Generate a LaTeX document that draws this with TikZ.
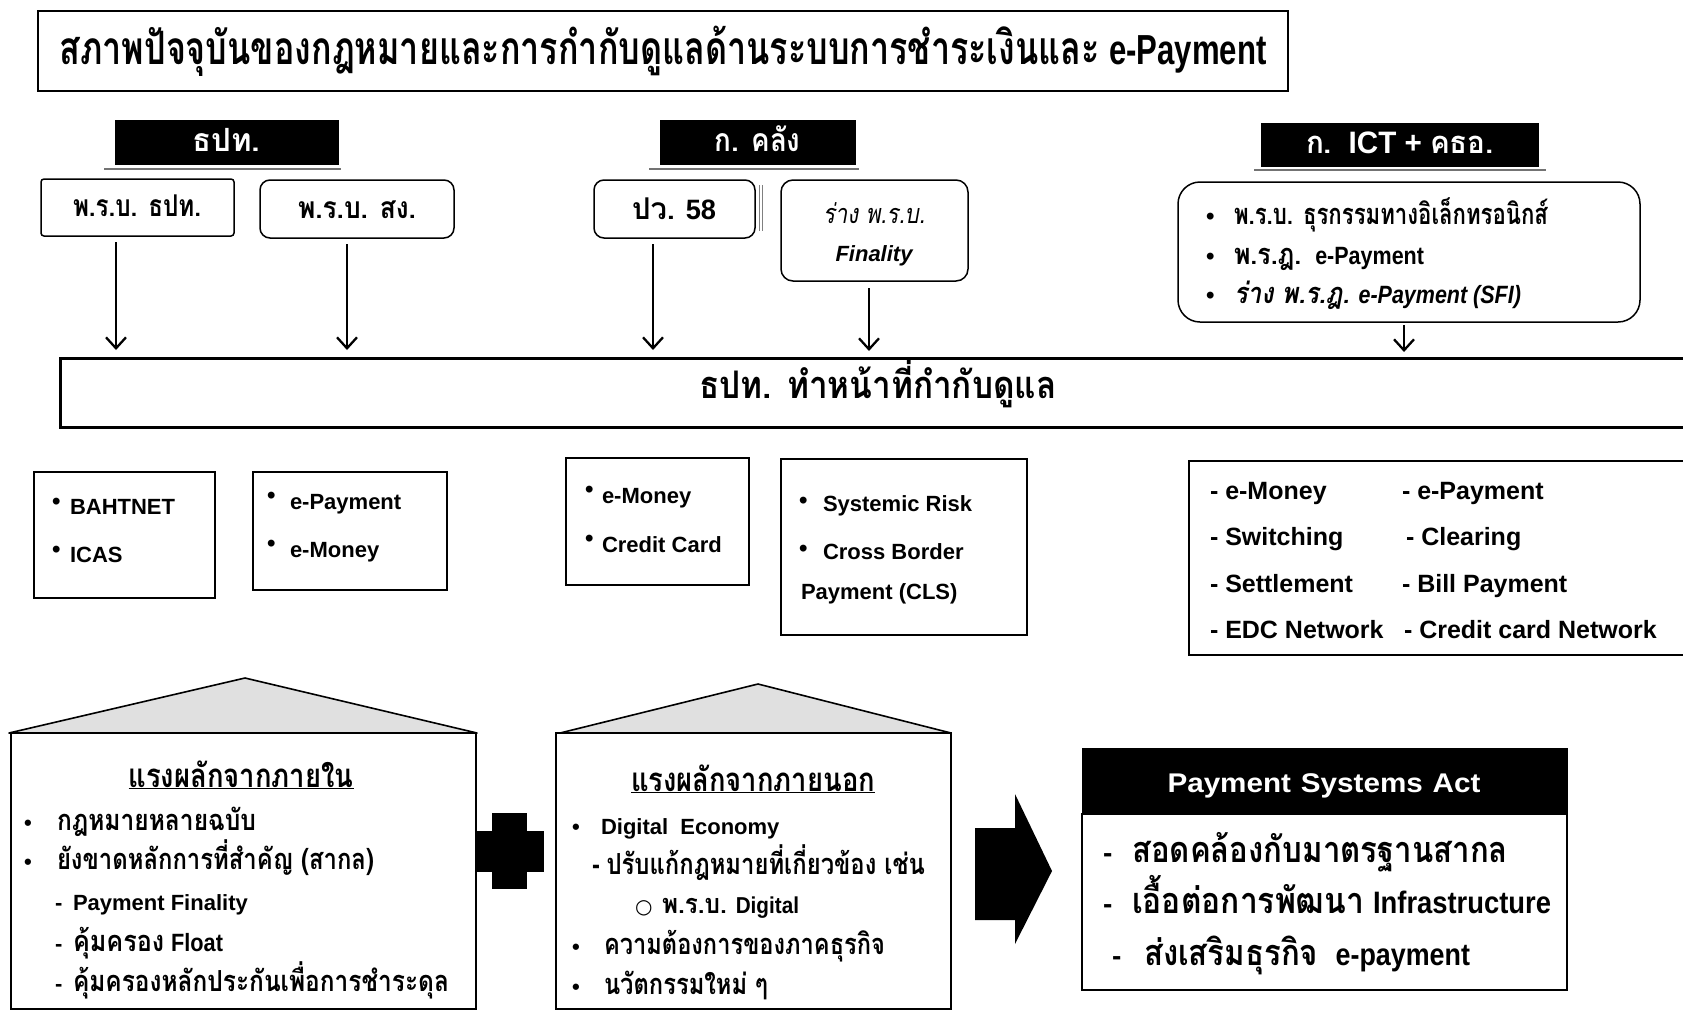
\documentclass[tikz,border=0pt]{standalone}
\usepackage{fontspec}
\usepackage{graphicx}
\setmainfont{Liberation Sans}
\newfontfamily\thfont[Script=Thai]{Loma}
\newfontfamily\dvfont{DejaVu Sans}
\usetikzlibrary{arrows.meta}
\newcommand{\T}[1]{{\thfont #1}}
\newcommand{\fs}[1]{\fontsize{#1}{#1}\selectfont}
\newcommand{\fw}[2]{\resizebox{#1}{\height}{#2}}
\tikzset{
  bx/.style={draw, line width=1.5pt, inner sep=0pt, outer sep=0pt},
  hd/.style={fill=black, draw=black, inner sep=0pt, outer sep=0pt},
  tx/.style={anchor=base west, inner sep=0pt, outer sep=0pt, font=\bfseries},
  tc/.style={anchor=base, inner sep=0pt, outer sep=0pt, font=\bfseries},
  arr/.style={line width=2.3pt, -{Straight Barb[length=11pt,width=20pt]}},
  roof/.style={fill=black!12, draw=black, line width=1.6pt, line join=round},
  hline/.style={draw=black!55, line width=2pt},
  blk/.style={fill=black},
}
\begin{document}
\begin{tikzpicture}[x=1pt,y=-1pt]
\useasboundingbox (0,0) rectangle (1683,1010);
\clip (0,0) rectangle (1683,1010);
\fill[white] (0,0) rectangle (1683,1010);

% title
\node[bx, line width=1.6pt, minimum width=1250pt, minimum height=80pt] (titlebox) at (663,51) {};
\node[tc] (title) at (663,64) {\fw{1207pt}{\fs{46}\T{สภาพปัจจุบันของกฎหมายและการกำกับดูแลด้านระบบการชำระเงินและ} \fs{42}e-Payment}};

% headers
\node[hd, minimum width=223pt, minimum height=44pt] (h1) at (226.5,142) {};
\node[tc, text=white] (h1t) at (226.5,151) {\fw{68pt}{\fs{32}\T{ธปท.}}};
\draw[hline] (104,169) -- (341,169);
\node[hd, minimum width=195pt, minimum height=44pt] (h2) at (757.5,142) {};
\node[tc, text=white] (h2t) at (757.5,151) {\fw{86pt}{\fs{32}\T{ก. คลัง}}};
\draw[hline] (649,169) -- (859,169);
\node[hd, minimum width=277pt, minimum height=43pt] (h3) at (1399.5,144.5) {};
\node[tc, text=white] (h3t) at (1400,153) {\fw{188pt}{\fs{31}\T{ก.}\ \ ICT + \T{คธอ.}}};
\draw[hline] (1254,170) -- (1546,170);

% top boxes
\node[bx, rounded corners=3pt, minimum width=193pt, minimum height=57pt] (b1) at (137.5,207.5) {};
\node[tc] (b1t) at (137,216) {\fw{128pt}{\fs{30}\T{พ.ร.บ. ธปท.}}};
\node[bx, rounded corners=10pt, minimum width=194pt, minimum height=58pt] (b2) at (357,209) {};
\node[tc] (b2t) at (357,218) {\fw{118pt}{\fs{30}\T{พ.ร.บ. สง.}}};
\node[bx, rounded corners=10pt, minimum width=161pt, minimum height=58pt] (b3) at (674.5,209) {};
\node[tc] (b3t) at (674,219) {\fw{84pt}{\fs{30}\T{ปว.} \fs{28}58}};
\draw[draw=black!50, line width=0.8pt] (759,185) -- (759,231);
\draw[draw=black!50, line width=0.8pt] (762,185) -- (762,231);
\node[bx, rounded corners=12pt, minimum width=187pt, minimum height=101pt] (b4) at (874.5,230.5) {};
\node[tc, font=\mdseries\itshape] (b4t) at (874,223) {\fw{102pt}{\fs{27}\T{ร่าง พ.ร.บ.}}};
\node[tc, font=\bfseries\itshape] (b4f) at (874,261) {\fs{22}Finality};
\node[bx, rounded corners=22pt, minimum width=462pt, minimum height=140pt] (b5) at (1409,252) {};
\node[tx] (b5b1) at (1206,224) {\fs{24}\textbullet};
\node[tx] (b5l1) at (1234,224) {\fw{314pt}{\fs{29}\T{พ.ร.บ. ธุรกรรมทางอิเล็กทรอนิกส์}}};
\node[tx] (b5b2) at (1206,264) {\fs{24}\textbullet};
\node[tx] (b5l2) at (1234,264) {\fw{190pt}{\fs{29}\T{พ.ร.ฎ.}\ \ \fs{25}e-Payment}};
\node[tx] (b5b3) at (1206,303) {\fs{24}\textbullet};
\node[tx, font=\bfseries\itshape] (b5l3) at (1234,303) {\fw{287pt}{\fs{29}\T{ร่าง พ.ร.ฎ.} \fs{25}e-Payment (SFI)}};

% bar
\node[bx, line width=3pt, minimum width=1640pt, minimum height=69pt] (bar) at (880,392.5) {};
\node[tc] (bart) at (878,398) {\fw{357pt}{\fs{38}\T{ธปท. ทำหน้าที่กำกับดูแล}}};

% arrows
\draw[arr, shorten <=6pt, shorten >=8pt] ([xshift=-21.5pt]b1.south) -- ([xshift=-21.5pt]b1.south |- bar.north);
\draw[arr, shorten <=6pt, shorten >=8pt] ([xshift=-10pt]b2.south) -- ([xshift=-10pt]b2.south |- bar.north);
\draw[arr, shorten <=6pt, shorten >=8pt] ([xshift=-21.5pt]b3.south) -- ([xshift=-21.5pt]b3.south |- bar.north);
\draw[arr, shorten <=7pt, shorten >=7pt] ([xshift=-5.5pt]b4.south) -- ([xshift=-5.5pt]b4.south |- bar.north);
\draw[arr, shorten <=3pt, shorten >=6pt] ([xshift=-5pt]b5.south) -- ([xshift=-5pt]b5.south |- bar.north);

% second row boxes
\node[bx, minimum width=181pt, minimum height=126pt] (c1) at (124.5,535) {};
\node[tx] (c1b1) at (52,509) {\fs{24}\textbullet};
\node[tx] (c1l1) at (70,514) {\fs{22}BAHTNET};
\node[tx] (c1b2) at (52,557) {\fs{24}\textbullet};
\node[tx] (c1l2) at (70,562) {\fs{22}ICAS};

\node[bx, minimum width=194pt, minimum height=118pt] (c2) at (350,531) {};
\node[tx] (c2b1) at (267,503) {\fs{24}\textbullet};
\node[tx] (c2l1) at (290,509) {\fs{22}e-Payment};
\node[tx] (c2b2) at (267,551) {\fs{24}\textbullet};
\node[tx] (c2l2) at (290,557) {\fs{22}e-Money};

\node[bx, minimum width=183pt, minimum height=127pt] (c3) at (657.5,521.5) {};
\node[tx] (c3b1) at (585,497) {\fs{24}\textbullet};
\node[tx] (c3l1) at (602,503) {\fs{22}e-Money};
\node[tx] (c3b2) at (585,546) {\fs{24}\textbullet};
\node[tx] (c3l2) at (602,552) {\fs{22}Credit Card};

\node[bx, minimum width=246pt, minimum height=176pt] (c4) at (904,547) {};
\node[tx] (c4b1) at (799,508) {\fs{24}\textbullet};
\node[tx] (c4l1) at (823,511) {\fs{22}Systemic Risk};
\node[tx] (c4b2) at (799,556) {\fs{24}\textbullet};
\node[tx] (c4l2) at (823,559) {\fs{22}Cross Border};
\node[tx] (c4l3) at (801,599) {\fs{22}Payment (CLS)};

\node[bx, minimum width=512pt, minimum height=194pt] (c5) at (1445,558) {};
\node[tx] (c5a1) at (1210,499) {\fs{25}- e-Money};
\node[tx] (c5a2) at (1210,545) {\fs{25}- Switching};
\node[tx] (c5a3) at (1210,592) {\fs{25}- Settlement};
\node[tx] (c5a4) at (1210,638) {\fs{25}- EDC Network};
\node[tx] (c5b1) at (1402,499) {\fs{25}- e-Payment};
\node[tx] (c5b2) at (1406,545) {\fs{25}- Clearing};
\node[tx] (c5b3) at (1402,592) {\fs{25}- Bill Payment};
\node[tx] (c5b4) at (1404,638) {\fs{25}- Credit card Network};

% house 1
\draw[roof] (9,733) -- (245,678) -- (477,733) -- cycle;
\node[bx, line width=1.6pt, minimum width=465pt, minimum height=276pt] (house1) at (243.5,871) {};
\node[tc] (ho1t) at (241,787) {\fw{225pt}{\fs{33}\underline{\T{แรงผลักจากภายใน}}}};
\node[tx] (ho1b1) at (24,830) {\fs{22}\textbullet};
\node[tx] (ho1l1) at (57,830) {\fw{199pt}{\fs{29}\T{กฎหมายหลายฉบับ}}};
\node[tx] (ho1b2) at (24,869) {\fs{22}\textbullet};
\node[tx] (ho1l2) at (57,869) {\fw{317pt}{\fs{29}\T{ยังขาดหลักการที่สำคัญ (สากล)}}};
\node[tx] (ho1d3) at (55,910) {\fs{22}-};
\node[tx] (ho1l3) at (73,910) {\fs{22}Payment Finality};
\node[tx] (ho1d4) at (55,951) {\fs{22}-};
\node[tx] (ho1l4) at (73,951) {\fw{150pt}{\fs{29}\T{คุ้มครอง} \fs{25}Float}};
\node[tx] (ho1d5) at (55,991) {\fs{22}-};
\node[tx] (ho1l5) at (73,991) {\fw{376pt}{\fs{29}\T{คุ้มครองหลักประกันเพื่อการชำระดุล}}};

% plus
\fill[blk] (492,813) rectangle (527,889);
\fill[blk] (476,831) rectangle (544,872);

% house 2
\draw[roof] (560,733) -- (758,684) -- (951,733) -- cycle;
\node[bx, line width=1.6pt, minimum width=395pt, minimum height=276pt] (house2) at (753.5,871) {};
\node[tc] (ho2t) at (753,791) {\fw{244pt}{\fs{33}\underline{\T{แรงผลักจากภายนอก}}}};
\node[tx] (ho2b1) at (572,834) {\fs{22}\textbullet};
\node[tx] (ho2l1) at (601,834) {\fs{22}Digital\ \ Economy};
\node[tx] (ho2l2) at (592,874) {\fw{333pt}{\fs{29}- \T{ปรับแก้กฎหมายที่เกี่ยวข้อง เช่น}}};
\node[tx] (ho2c3) at (635,913) {\fs{20}\dvfont ○};
\node[tx] (ho2l3) at (662,913) {\fw{137pt}{\fs{27}\T{พ.ร.บ.} \fs{23}Digital}};
\node[tx] (ho2b4) at (572,954) {\fs{22}\textbullet};
\node[tx] (ho2l4) at (604,954) {\fw{281pt}{\fs{29}\T{ความต้องการของภาคธุรกิจ}}};
\node[tx] (ho2b5) at (572,994) {\fs{22}\textbullet};
\node[tx] (ho2l5) at (604,994) {\fw{164pt}{\fs{29}\T{นวัตกรรมใหม่ ๆ}}};

% big arrow
\fill[blk] (975,828) -- (1015,828) -- (1015,794) -- (1052,871) -- (1015,944) -- (1015,920) -- (975,920) -- cycle;

% payment systems act
\node[hd, minimum width=485pt, minimum height=66pt] (psah) at (1324.5,781) {};
\node[tc, text=white] (psaht) at (1324,792) {\fw{313pt}{\fs{27}Payment\hspace{9pt}Systems\hspace{9pt}Act}};
\node[bx, minimum width=485pt, minimum height=176pt] (psab) at (1324.5,902) {};
\node[tx] (psad1) at (1103,862) {\fs{28}-};
\node[tx] (psal1) at (1132,862) {\fw{376pt}{\fs{36}\T{สอดคล้องกับมาตรฐานสากล}}};
\node[tx] (psad2) at (1103,913) {\fs{28}-};
\node[tx] (psal2) at (1132,913) {\fw{419pt}{\fs{36}\T{เอื้อต่อการพัฒนา} \fs{31}Infrastructure}};
\node[tx] (psad3) at (1112,965) {\fs{28}-};
\node[tx] (psal3) at (1144,965) {\fw{326pt}{\fs{36}\T{ส่งเสริมธุรกิจ}\ \ \fs{31}e-payment}};
\end{tikzpicture}
\end{document}
